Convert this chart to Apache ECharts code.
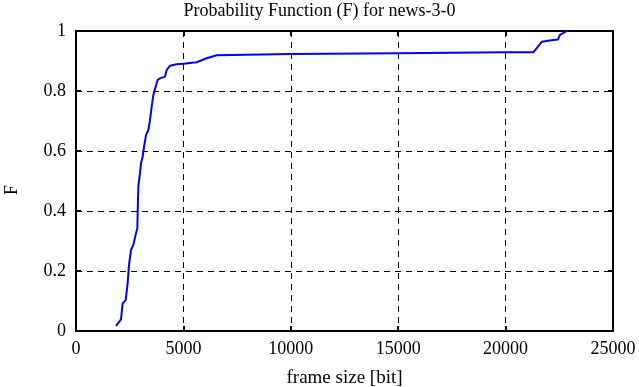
<!DOCTYPE html>
<html><head><meta charset="utf-8">
<script src="https://cdn.jsdelivr.net/npm/echarts@6/dist/echarts.min.js"></script>
<style>html,body{margin:0;padding:0;background:#fff}#c{width:639px;height:387px}</style>
</head><body><div id="c"></div>
<script>
var frameSize = [1862,2095,2173,2312,2405,2467,2560,2670,2793,2855,2870,2902,2980,3026,3104,3166,3259,3368,3445,3523,3601,3709,3802,3911,4143,4221,4376,4686,4996,5617,6082,6548,10000,15000,20000,21290,21601,21680,22050,22440,22530,22850];
var probF = [0.017,0.039,0.092,0.103,0.159,0.22,0.27,0.287,0.326,0.342,0.392,0.481,0.526,0.559,0.581,0.614,0.653,0.67,0.703,0.748,0.787,0.814,0.837,0.842,0.848,0.87,0.884,0.889,0.891,0.896,0.909,0.919,0.923,0.926,0.929,0.929,0.956,0.964,0.968,0.972,0.987,1.0];
var titleText = 'Probability Function (F) for news-3-0';
var xName = 'frame size [bit]';
var yName = 'F';

var font = 'Liberation Serif';
var chart = echarts.init(document.getElementById('c'), null, {renderer:'canvas'});
var pts = frameSize.map(function(x,i){return [x, probF[i]];});
function axisCommon(){
  return {
    axisLine:{show:true, onZero:false, lineStyle:{color:'#000', width:2}},
    axisTick:{show:true, inside:true, length:5, lineStyle:{color:'#000', width:2}},
    splitLine:{show:false}
  };
}
function fmt(v){ return String(Math.round(v*1000)/1000); }
chart.setOption({
  animation:false,
  title:{text:titleText, left:'center', top:-3, textStyle:{fontFamily:font, fontSize:18, fontWeight:'normal', color:'#000'}},
  grid:{left:76, right:26, top:31, bottom:56, containLabel:false, outerBoundsMode:'none'},
  xAxis:[
    Object.assign(axisCommon(), {type:'value', min:0, max:25000, interval:5000, position:'bottom',
      name:xName, nameLocation:'middle', nameGap:38,
      nameTextStyle:{fontFamily:font, fontSize:19, color:'#000'},
      axisLabel:{fontFamily:font, fontSize:18, color:'#000', margin:9, formatter:fmt},
      splitLine:{show:true, lineStyle:{color:'#000', type:[6,5], width:1}}}),
    Object.assign(axisCommon(), {type:'value', min:0, max:25000, interval:5000, position:'top',
      axisLabel:{show:false}})
  ],
  yAxis:[
    Object.assign(axisCommon(), {type:'value', min:0, max:1, interval:0.2, position:'left',
      name:yName, nameLocation:'middle', nameGap:55, nameRotate:90,
      nameTextStyle:{fontFamily:font, fontSize:18, color:'#000', padding:[0,0,0,-18]},
      axisLabel:{fontFamily:font, fontSize:18, color:'#000', margin:10, formatter:fmt, padding:[4,0,0,0]},
      splitLine:{show:true, lineStyle:{color:'#000', type:[6,5], width:1}}}),
    Object.assign(axisCommon(), {type:'value', min:0, max:1, interval:0.2, position:'right',
      axisLabel:{show:false}})
  ],
  series:[{type:'line', data:pts, showSymbol:false, symbol:'none',
    lineStyle:{color:'#0000ff', width:2}, xAxisIndex:0, yAxisIndex:0}]
});
</script></body></html>
